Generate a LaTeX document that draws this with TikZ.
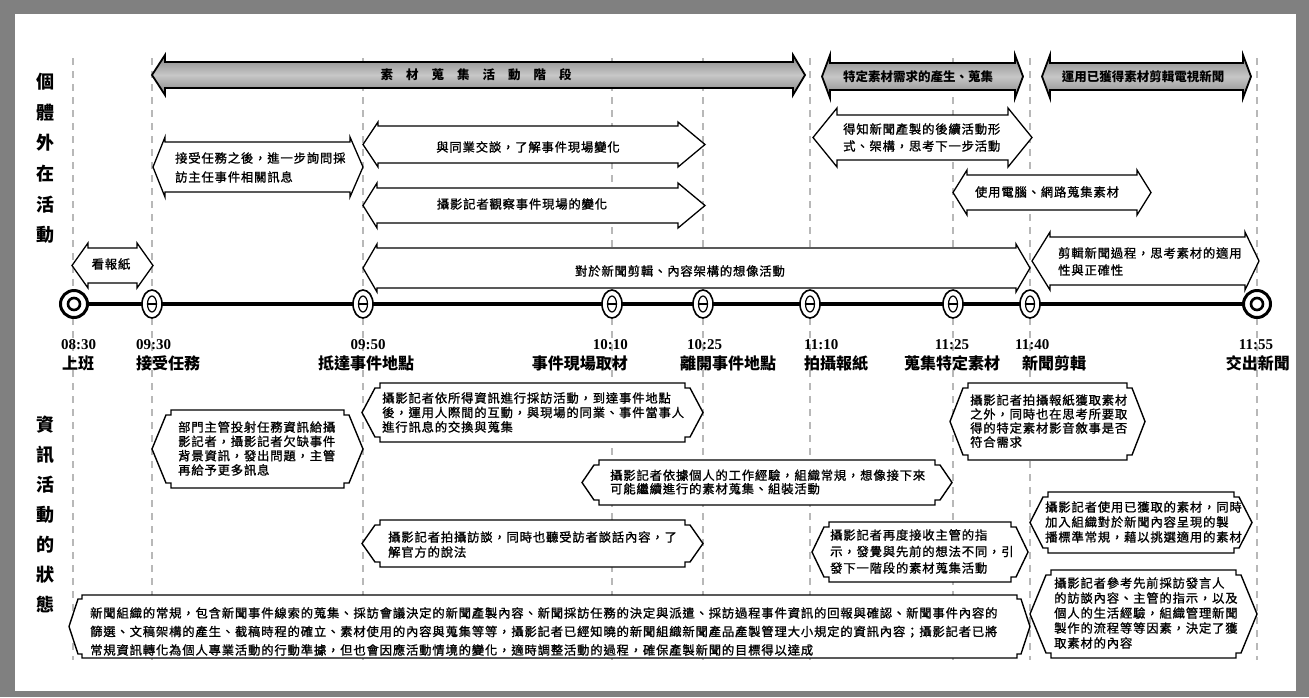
\documentclass[tikz,border=0pt]{standalone}
\usepackage{fontspec}
\newfontfamily\cjk{Noto Sans CJK TC}
\newfontfamily\cjkls{Noto Sans CJK TC}[LetterSpace=7, FakeBold=1.2]
\newfontfamily\serifb{Liberation Serif}
\newcommand{\myarrow}[8][arrowshape]{%
  \path[#1] (#2,{(#4+#5)/2}) -- ({#2+#6},{#4-#8}) -- ({#2+#6},#4) -- ({#3-#7},#4) -- ({#3-#7},{#4-#8}) -- (#3,{(#4+#5)/2}) -- ({#3-#7},{#5+#8}) -- ({#3-#7},#5) -- ({#2+#6},#5) -- ({#2+#6},{#5+#8}) -- cycle;}
\newcommand{\mybox}[6]{%
  \path[boxshape] (#1,{(#3+#4)/2}) -- ({#1+#5},{#3+#6}) -- ({#1+#5+#6},{#3+#6}) -- ({#1+#5+#6},#3) -- ({#2-#5-#6},#3) -- ({#2-#5-#6},{#3+#6}) -- ({#2-#5},{#3+#6}) -- (#2,{(#3+#4)/2}) -- ({#2-#5},{#4-#6}) -- ({#2-#5-#6},{#4-#6}) -- ({#2-#5-#6},#4) -- ({#1+#5+#6},#4) -- ({#1+#5+#6},{#4-#6}) -- ({#1+#5},{#4-#6}) -- cycle;}
\tikzset{
  arrowshape/.style={draw=black, line width=1.3pt, fill=white, line join=miter},
  barshape/.style={draw=black, line width=1.8pt, top color=black!48, bottom color=black!48, middle color=black!22, line join=miter},
  boxshape/.style={draw=black, line width=1.4pt, fill=white, line join=miter},
  guide/.style={draw=black!28, line width=1.2pt, dash pattern=on 7pt off 6pt},
  bodytext/.style={inner sep=0pt, align=left, font=\cjkls\fontsize{12.3}{#1}\selectfont},
  bodytext/.default=14.5,
  bartext/.style={inner sep=0pt, font=\cjk\bfseries\fontsize{12.5}{14}\selectfont},
  sidelab/.style={inner sep=0pt, align=center, font=\cjk\bfseries\fontsize{18}{#1}\selectfont},
  timelab/.style={inner sep=0pt, font=\serifb\bfseries\fontsize{15}{15}\selectfont},
  eventlab/.style={inner sep=0pt, font=\cjk\bfseries\fontsize{16}{16}\selectfont},
}
\begin{document}
\begin{tikzpicture}[x=1pt, y=-1pt]
\useasboundingbox (0,0) rectangle (1309,697);
% frame
\fill[black!50] (0,0) rectangle (1309,697);
\fill[white] (15,14) rectangle (1296,691);
% guide lines
\foreach \gx in {73,152,363,612,703,810,953,1030,1257}
  \draw[guide] (\gx,58) -- (\gx,660);
% side labels
\node[sidelab=30.7] (side1) at (45,158.5) {個\\體\\外\\在\\活\\動};
\node[sidelab=30] (side2) at (45,514) {資\\訊\\活\\動\\的\\狀\\態};
% top phase bars
\myarrow[barshape]{152}{805}{62}{88}{13}{12}{7}
\node[bartext] (phase1) at (476,75) {素\hspace{13pt}材\hspace{13pt}蒐\hspace{13pt}集\hspace{13pt}活\hspace{13pt}動\hspace{13pt}階\hspace{13pt}段};
\myarrow[barshape]{822}{1023}{63}{90}{8}{8}{8}
\node[bartext] (phase2) at (918,77) {特定素材需求的產生、蒐集};
\myarrow[barshape]{1042}{1251}{63}{90}{8}{8}{8}
\node[bartext] (phase3) at (1143,77) {運用已獲得素材剪輯電視新聞};
% external activity arrows
\myarrow{153}{363}{142}{192}{12}{13}{5}
\node[bodytext=19, anchor=west] (a1) at (175,167.5) {接受任務之後，進一步詢問採\\訪主任事件相關訊息};
\myarrow{363}{705}{126}{163}{15}{27}{4}
\node[bodytext] (a2) at (528,147) {與同業交談，了解事件現場變化};
\myarrow{363}{705}{188}{223}{14}{27}{5}
\node[bodytext] (a3) at (522,204) {攝影記者觀察事件現場的變化};
\myarrow{72}{153}{248}{283}{16}{16}{5}
\node[bodytext] (a4) at (111,264) {看報紙};
\myarrow{363}{1030}{248}{288}{14}{14}{4}
\node[bodytext] (a5) at (680,271) {對於新聞剪輯、內容架構的想像活動};
\myarrow{813}{1032}{115}{160}{24}{24}{7}
\node[bodytext=17, anchor=west] (a6) at (843,137.5) {得知新聞產製的後續活動形\\式、架構，思考下一步活動};
\myarrow{953}{1151}{175}{210}{14}{14}{5}
\node[bodytext] (a7) at (1047,192) {使用電腦、網路蒐集素材};
\myarrow{1032}{1259}{237}{285}{18}{14}{5}
\node[bodytext=17, anchor=west] (a8) at (1058,261.5) {剪輯新聞過程，思考素材的適用\\性與正確性};
% timeline
\draw[line width=3.5pt] (74,304) -- (1257,304);
\foreach \mx in {152,363,612,703,810,953,1030} {
  \draw[line width=1.6pt, fill=white] (\mx,304) ellipse [x radius=10, y radius=14];
  \draw[line width=1.2pt] (\mx,304) ellipse [x radius=4.5, y radius=8];
  \draw[line width=1.2pt] (\mx-4.5,304) -- (\mx+4.5,304);
}
\foreach \mx in {74,1257} {
  \draw[line width=3pt, fill=white] (\mx,304) circle [radius=13.5];
  \draw[line width=2.6pt] (\mx,304) circle [radius=6];
}
% time labels
\node[timelab, anchor=west] (t0) at (61,345) {08:30};
\node[eventlab, anchor=west] (e0) at (62,363) {上班};
\node[timelab, anchor=west] (t1) at (136,345) {09:30};
\node[eventlab, anchor=west] (e1) at (136,363) {接受任務};
\node[timelab] (t2) at (368,345) {09:50};
\node[eventlab] (e2) at (366,363) {抵達事件地點};
\node[timelab, anchor=east] (t3) at (628,345) {10:10};
\node[eventlab, anchor=east] (e3) at (628,363) {事件現場取材};
\node[timelab, anchor=west] (t4) at (687,345) {10:25};
\node[eventlab, anchor=west] (e4) at (680,363) {離開事件地點};
\node[timelab, anchor=west] (t5) at (804,345) {11:10};
\node[eventlab, anchor=west] (e5) at (804,363) {拍攝報紙};
\node[timelab] (t6) at (952,345) {11:25};
\node[eventlab] (e6) at (952,363) {蒐集特定素材};
\node[timelab, anchor=west] (t7) at (1015,345) {11:40};
\node[eventlab, anchor=west] (e7) at (1022,363) {新聞剪輯};
\node[timelab] (t8) at (1256,345) {11:55};
\node[eventlab, anchor=east] (e8) at (1290,363) {交出新聞};
% information boxes
\mybox{152}{363}{410}{488}{14}{5}
\node[bodytext=14.3, anchor=west] (b1) at (178,448.5) {部門主管投射任務資訊給攝\\影記者，攝影記者欠缺事件\\背景資訊，發出問題，主管\\再給予更多訊息};
\mybox{362}{703}{383}{442}{13}{5}
\node[bodytext=14.5, anchor=west] (b2) at (382,412.5) {攝影記者依所得資訊進行採訪活動，到達事件地點\\後，運用人際間的互動，與現場的同業、事件當事人\\進行訊息的交換與蒐集};
\mybox{582}{952}{460}{505}{12}{5}
\node[bodytext=13.5, anchor=west] (b3) at (610,482) {攝影記者依據個人的工作經驗，組織常規，想像接下來\\可能繼續進行的素材蒐集、組裝活動};
\mybox{362}{703}{520}{567}{13}{5}
\node[bodytext=15, anchor=west] (b4) at (388,544.5) {攝影記者拍攝訪談，同時也聽受訪者談話內容，了\\解官方的說法};
\mybox{950}{1145}{383}{460}{13}{5}
\node[bodytext=14, anchor=west] (b5) at (970,421) {攝影記者拍攝報紙獲取素材\\之外，同時也在思考所要取\\得的特定素材影音敘事是否\\符合需求};
\mybox{812}{1028}{522}{582}{12}{5}
\node[bodytext=16.5, anchor=west] (b6) at (830,551.5) {攝影記者再度接收主管的指\\示，發覺與先前的想法不同，引\\發下一階段的素材蒐集活動};
\mybox{1030}{1252}{492}{553}{13}{5}
\node[bodytext=15, anchor=west] (b7) at (1045,522) {攝影記者使用已獲取的素材，同時\\加入組織對於新聞內容呈現的製\\播標準常規，藉以挑選適用的素材};
\mybox{69}{1030}{595}{658}{9}{4}
\node[bodytext=18.5, anchor=west] (b9) at (90,631.5) {新聞組織的常規，包含新聞事件線索的蒐集、採訪會議決定的新聞產製內容、新聞採訪任務的決定與派遣、採訪過程事件資訊的回報與確認、新聞事件內容的\\篩選、文稿架構的產生、截稿時程的確立、素材使用的內容與蒐集等等，攝影記者已經知曉的新聞組織新聞產品產製管理大小規定的資訊內容；攝影記者已將\\常規資訊轉化為個人專業活動的行動準據，但也會因應活動情境的變化，適時調整活動的過程，確保產製新聞的目標得以達成};
\mybox{1030}{1257}{570}{658}{16}{5}
\node[bodytext=15, anchor=west] (b8) at (1054,613) {攝影記者參考先前採訪發言人\\的訪談內容、主管的指示，以及\\個人的生活經驗，組織管理新聞\\製作的流程等等因素，決定了獲\\取素材的內容};
\end{tikzpicture}
\end{document}
